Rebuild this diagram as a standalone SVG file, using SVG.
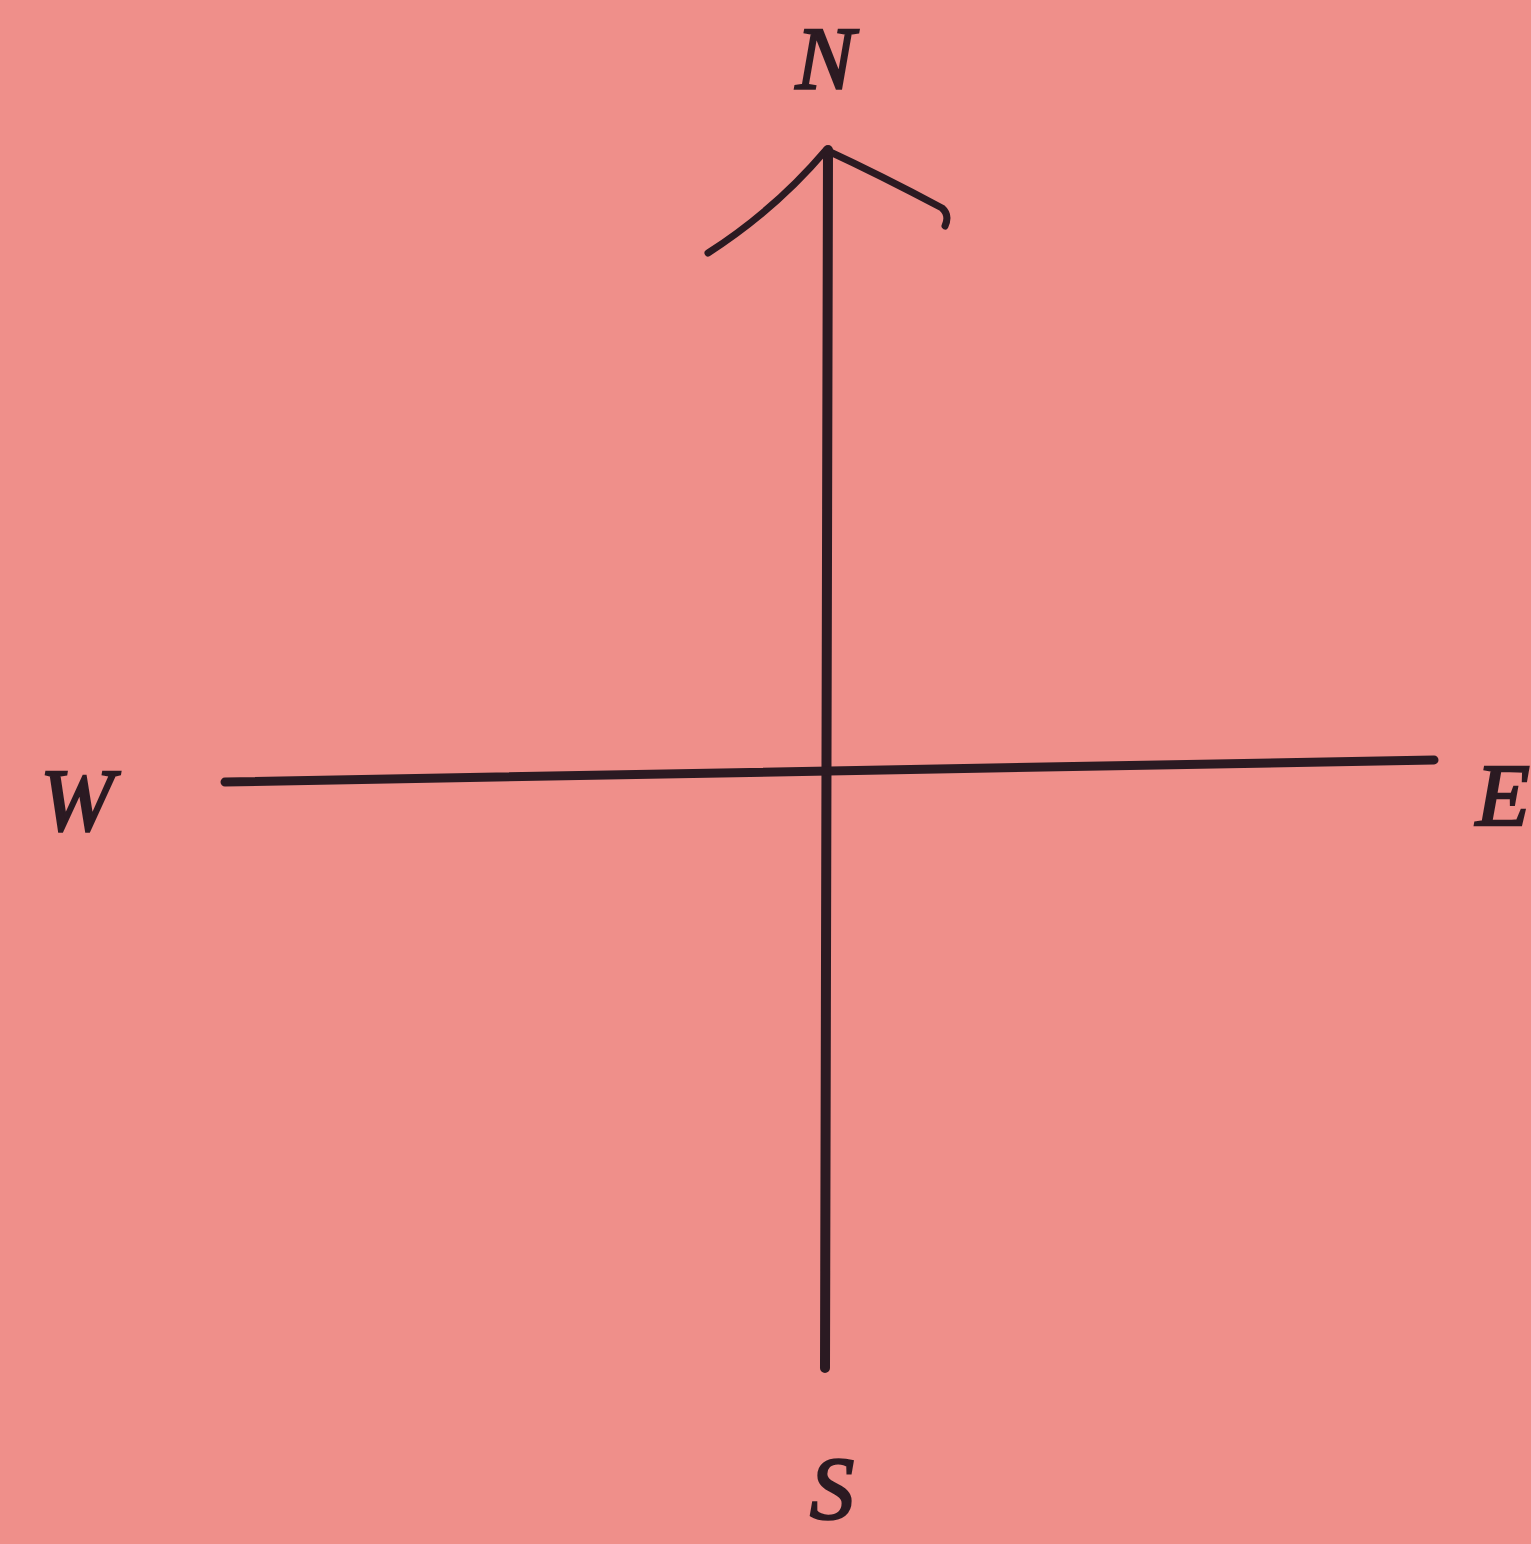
<svg xmlns="http://www.w3.org/2000/svg" width="1531" height="1544" viewBox="0 0 1531 1544">
<style>
.lbl{font-family:"Liberation Serif","DejaVu Serif",serif;font-style:italic;fill:#2b1a22;stroke:#2b1a22;stroke-width:2.5;font-size:88px}
.ln{stroke:#2b1a22;fill:none;stroke-linecap:round;stroke-linejoin:round}
</style>
<rect width="1531" height="1544" fill="#EF8F8A"/>
<g id="connectors">
<path class="ln" stroke-width="10" d="M828 150 L825 1368"/>
<path class="ln" stroke-width="9" d="M225 782 L1434 760"/>
<path class="ln" stroke-width="7" d="M708 253 Q775 210 826 150 Q880 175 942 208 Q950 215 945 226"/>
</g>
<g id="label-N"><text class="lbl" x="825" y="88" text-anchor="middle">N</text></g>
<g id="label-W"><text class="lbl" x="77" y="830" text-anchor="middle">W</text></g>
<g id="label-E"><text class="lbl" x="1476" y="825">E</text></g>
<g id="label-S"><text class="lbl" x="832" y="1518" text-anchor="middle">S</text></g>
</svg>
